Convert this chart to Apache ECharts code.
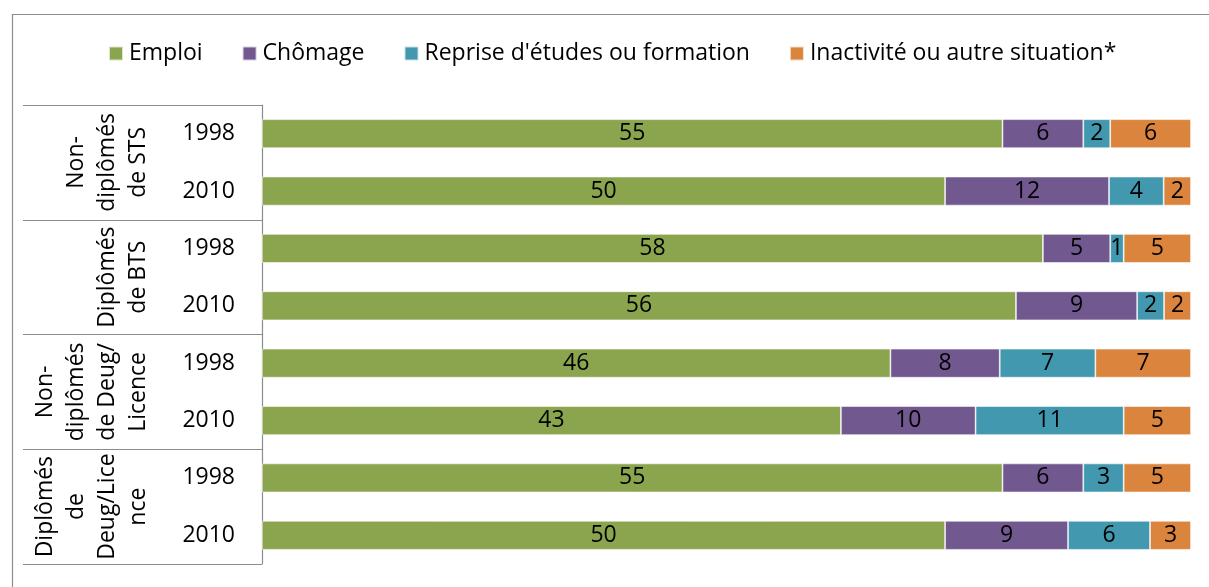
<!DOCTYPE html>
<html>
<head>
<meta charset="utf-8">
<script src="https://cdn.jsdelivr.net/npm/echarts@6/dist/echarts.min.js"></script>
<style>
html,body{margin:0;padding:0;background:#fff;}
#chart{width:1209px;height:587px;}
</style>
</head>
<body>
<div id="chart"></div>
<script>
const groups = ["Non-\ndiplômés\nde STS", "Diplômés\nde BTS", "Non-\ndiplômés\nde Deug/\nLicence", "Diplômés\nde\nDeug/Lice\nnce"];
const years = ["1998", "2010", "1998", "2010", "1998", "2010", "1998", "2010"];
const seriesNames = ["Emploi", "Chômage", "Reprise d'études ou formation", "Inactivité ou autre situation*"];
const emploi  = [55, 50, 58, 56, 46, 43, 55, 50];
const chomage = [6, 12, 5, 9, 8, 10, 6, 9];
const reprise = [2, 4, 1, 2, 7, 11, 3, 6];
const inactivite = [6, 2, 5, 2, 7, 5, 5, 3];
const colors = ["#8BA54F", "#71588F", "#4298AF", "#DB843D"];

const raw = [emploi, chomage, reprise, inactivite];
const totals = years.map((_, i) => raw.reduce((s, a) => s + a[i], 0));
const FONT = "Open Sans";

const series = raw.map((arr, k) => ({
  name: seriesNames[k],
  type: 'bar',
  stack: 'total',
  yAxisIndex: 0,
  barWidth: 29,
  itemStyle: { color: colors[k], borderColor: 'rgba(255,255,255,0.7)', borderWidth: 0.8 },
  label: {
    show: true, position: 'inside', color: '#000', fontFamily: FONT, fontSize: 23,
    formatter: p => String(arr[p.dataIndex])
  },
  emphasis: { disabled: true },
  data: arr.map((v, i) => v / totals[i] * 100)
}));

const chart = echarts.init(document.getElementById('chart'), null, { renderer: 'canvas' });
chart.setOption({
  animation: false,
  color: colors,
  textStyle: { fontFamily: FONT },
  graphic: [{
    type: 'rect', left: 10, top: 12, z: -1,
    shape: { width: 1240, height: 620 },
    style: { fill: 'none', stroke: '#8c8c8c', lineWidth: 1.2 }
  }],
  legend: {
    left: 103, top: 37,
    itemWidth: 14, itemHeight: 14, itemGap: 39,
    icon: 'rect',
    textStyle: { fontFamily: FONT, fontSize: 23, color: '#000', padding: [0, 0, 0, 1] },
    data: seriesNames
  },
  grid: { left: 262, right: 18, top: 105, bottom: 23, containLabel: false },
  xAxis: { type: 'value', min: 0, max: 100, show: false },
  yAxis: [{
    type: 'category', inverse: true, data: years, position: 'left',
    axisLine: { show: false }, axisTick: { show: false },
    axisLabel: { fontFamily: FONT, fontSize: 23, color: '#000', margin: 27 }
  }, {
    type: 'category', inverse: true, data: groups, position: 'left', offset: 0,
    axisLine: { show: true, lineStyle: { color: '#8c8c8c', width: 1.2 } },
    axisTick: { show: true, length: 239, interval: 0, lineStyle: { color: '#8c8c8c', width: 1.2 } },
    axisLabel: { rotate: 90, interval: 0, fontFamily: FONT, fontSize: 23, color: '#000', margin: 108, lineHeight: 31 }
  }],
  series: series
});
</script>
</body>
</html>
